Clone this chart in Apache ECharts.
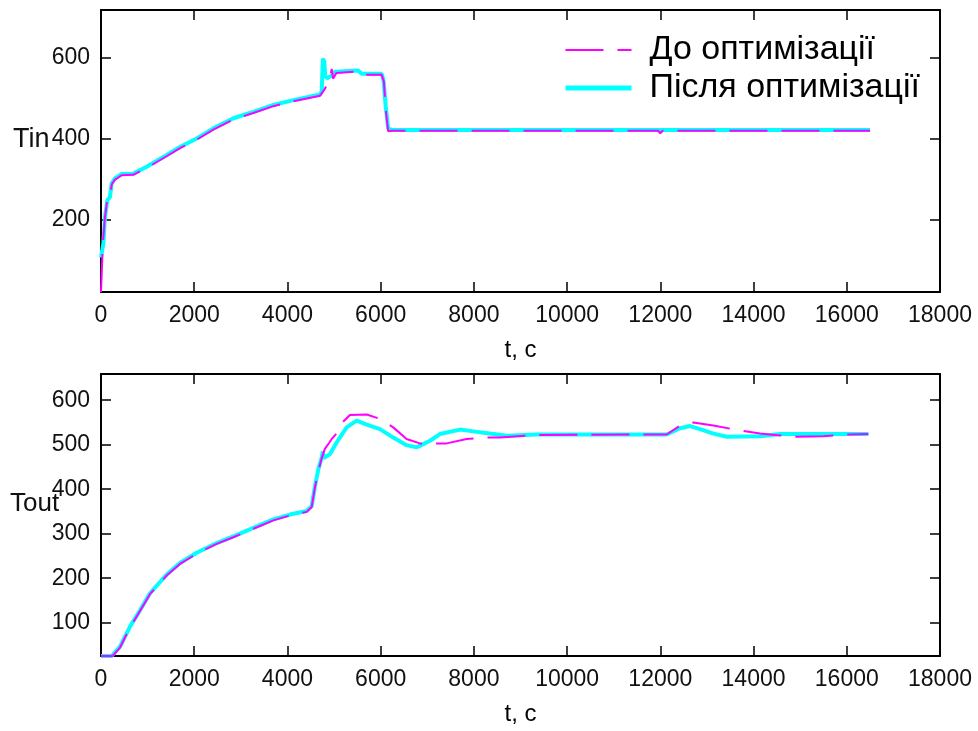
<!DOCTYPE html>
<html>
<head>
<meta charset="utf-8">
<script src="https://cdn.jsdelivr.net/npm/echarts@6/dist/echarts.min.js"></script>
<style>
html,body{margin:0;padding:0;background:#fff;}
#chart{width:978px;height:731px;}
</style>
</head>
<body>
<div id="chart"></div>
<script>
// ---- data ----
const nameBefore = 'До оптимізації';
const nameAfter = 'Після оптимізації';
const xTicks = [0, 2000, 4000, 6000, 8000, 10000, 12000, 14000, 16000, 18000];
const tinTicks = [200, 400, 600];
const toutTicks = [100, 200, 300, 400, 500, 600];

const tinAfterT = [0, 50, 86, 136, 193, 229, 300, 443, 694, 980, 1409, 1695, 2053, 2411, 2840, 3269, 3698, 4127, 4700, 4735, 4760, 4790, 4810, 4850, 4985, 5020, 5520, 5590, 6020, 6060, 6110, 6160, 6250, 16500];
const tinAfterV = [105, 140, 206, 247, 255, 289, 301, 312, 313, 330, 359, 379, 400, 425, 450, 466, 483, 495, 509, 516, 598, 590, 555, 549, 558, 565, 568, 560, 560, 545, 478, 425, 421, 421];

const tinBeforeT = [0, 20, 40, 80, 130, 193, 229, 300, 443, 694, 980, 1409, 1695, 2053, 2411, 2840, 3269, 3698, 4127, 4700, 4800, 4870, 4920, 4950, 4980, 5050, 5520, 5590, 6020, 6070, 6110, 6160, 6250, 11950, 12000, 12050, 16500];
const tinBeforeV = [20, 80, 140, 200, 245, 252, 286, 298, 309, 310, 327, 356, 376, 397, 422, 447, 463, 480, 492, 506, 522, 540, 556, 572, 548, 562, 566, 558, 558, 540, 470, 418, 419, 419, 413, 419, 419];

const toutAfterT = [0, 229, 408, 622, 837, 1051, 1409, 1695, 2053, 2482, 2840, 3269, 3698, 4055, 4413, 4520, 4591, 4663, 4735, 4760, 4780, 4806, 4913, 5056, 5270, 5485, 5700, 5985, 6270, 6556, 6770, 7058, 7272, 7702, 7988, 8417, 8700, 9346, 12136, 12422, 12637, 12851, 13138, 13424, 14139, 14568, 16464];
const toutAfterV = [25, 25, 46, 91, 128, 166, 208, 234, 257, 279, 294, 313, 332, 343, 351, 362, 407, 445, 471, 485, 470, 466, 479, 505, 539, 554, 545, 535, 516, 499, 494, 509, 524, 534, 530, 524, 520, 523, 523, 537, 542, 535, 525, 518, 519, 524, 524];

const toutBeforeT = [0, 250, 408, 622, 837, 1051, 1409, 1695, 2053, 2482, 2840, 3269, 3698, 4055, 4413, 4520, 4591, 4663, 4735, 4800, 4900, 4950, 5050, 5160, 5340, 5700, 5985, 6270, 6556, 6842, 7415, 7845, 8200, 8560, 9300, 12136, 12422, 12708, 13138, 13710, 14139, 14568, 14925, 15500, 16000, 16464];
const toutBeforeV = [25, 25, 44, 89, 126, 164, 206, 232, 255, 277, 292, 311, 330, 341, 349, 360, 405, 440, 470, 490, 505, 513, 525, 548, 567, 568, 558, 539, 513, 503, 503, 513, 516, 516, 522, 523, 543, 550, 543, 532, 525, 521, 518, 519, 523, 524];

function pairs(t, v) { return t.map((x, i) => [x, v[i]]); }

const FONT = '"Liberation Sans", Arial, sans-serif';
const MAGENTA = '#ff00ff';
const CYAN = '#00ffff';

function xAxisMain(grid) {
  return {
    type: 'value', gridIndex: grid, min: 0, max: 18000, interval: 2000,
    position: 'bottom',
    name: 't, c', nameLocation: 'middle', nameGap: 46,
    nameTextStyle: { fontFamily: FONT, fontSize: 24, color: '#000' },
    axisLine: { show: true, onZero: false, lineStyle: { color: '#000', width: 2 } },
    axisTick: { show: true, inside: true, length: 10, lineStyle: { color: '#000', width: 1.5 } },
    axisLabel: { show: true, margin: 12, fontFamily: FONT, fontSize: 23, color: '#111',
      customValues: xTicks, formatter: v => String(v) },
    splitLine: { show: false }
  };
}
function xAxisTop(grid) {
  return {
    type: 'value', gridIndex: grid, min: 0, max: 18000, interval: 2000,
    position: 'top',
    axisLine: { show: true, onZero: false, lineStyle: { color: '#000', width: 2 } },
    axisTick: { show: true, inside: true, length: 10, lineStyle: { color: '#000', width: 1.5 } },
    axisLabel: { show: false },
    splitLine: { show: false }
  };
}
function yAxis(grid, min, max, ticks, pos, showLabel) {
  return {
    type: 'value', gridIndex: grid, min: min, max: max, position: pos,
    axisLine: { show: true, onZero: false, lineStyle: { color: '#000', width: 2 } },
    axisTick: { show: true, inside: true, length: 10, customValues: ticks, lineStyle: { color: '#000', width: 1.5 } },
    axisLabel: { show: showLabel, customValues: ticks, margin: 11, fontFamily: FONT, fontSize: 23, color: '#111',
      formatter: v => String(v) },
    splitLine: { show: false }
  };
}

const chart = echarts.init(document.getElementById('chart'), null, { renderer: 'canvas' });
chart.setOption({
  animation: false,
  backgroundColor: '#fff',
  grid: [
    { left: 101, right: 38, top: 10, height: 282 },
    { left: 101, right: 38, top: 374, height: 282 }
  ],
  xAxis: [xAxisMain(0), xAxisTop(0), xAxisMain(1), xAxisTop(1)],
  yAxis: [
    yAxis(0, 20, 718, tinTicks, 'left', true),
    yAxis(0, 20, 718, tinTicks, 'right', false),
    yAxis(1, 25, 659, toutTicks, 'left', true),
    yAxis(1, 25, 659, toutTicks, 'right', false)
  ],
  legend: {
    data: [
      { name: nameBefore, lineStyle: { width: 2 } },
      { name: nameAfter, lineStyle: { width: 5 } }
    ],
    orient: 'vertical',
    left: 563, top: 33,
    padding: 0,
    itemWidth: 66, itemHeight: 14, itemGap: 4,
    itemStyle: { opacity: 0 },
    textStyle: { fontFamily: FONT, fontSize: 34, color: '#000', lineHeight: 34, padding: [0, 0, 0, 13] }
  },
  graphic: [
    { type: 'text', left: 13, top: 126, style: { text: 'Tin', font: '27px ' + FONT, fill: '#111' } },
    { type: 'text', left: 10, top: 491, style: { text: 'Tout', font: '26px ' + FONT, fill: '#111' } }
  ],
  series: [
    { name: nameAfter, type: 'line', xAxisIndex: 0, yAxisIndex: 0, data: pairs(tinAfterT, tinAfterV),
      symbol: 'none', lineStyle: { color: CYAN, width: 4 }, itemStyle: { color: CYAN } },
    { name: nameBefore, type: 'line', xAxisIndex: 0, yAxisIndex: 0, data: pairs(tinBeforeT, tinBeforeV),
      symbol: 'none', lineStyle: { color: MAGENTA, width: 2, type: [38, 14] }, itemStyle: { color: MAGENTA } },
    { name: nameAfter, type: 'line', xAxisIndex: 2, yAxisIndex: 2, data: pairs(toutAfterT, toutAfterV),
      symbol: 'none', lineStyle: { color: CYAN, width: 4 }, itemStyle: { color: CYAN } },
    { name: nameBefore, type: 'line', xAxisIndex: 2, yAxisIndex: 2, data: pairs(toutBeforeT, toutBeforeV),
      symbol: 'none', lineStyle: { color: MAGENTA, width: 2, type: [38, 14] }, itemStyle: { color: MAGENTA } }
  ]
});
</script>
</body>
</html>
